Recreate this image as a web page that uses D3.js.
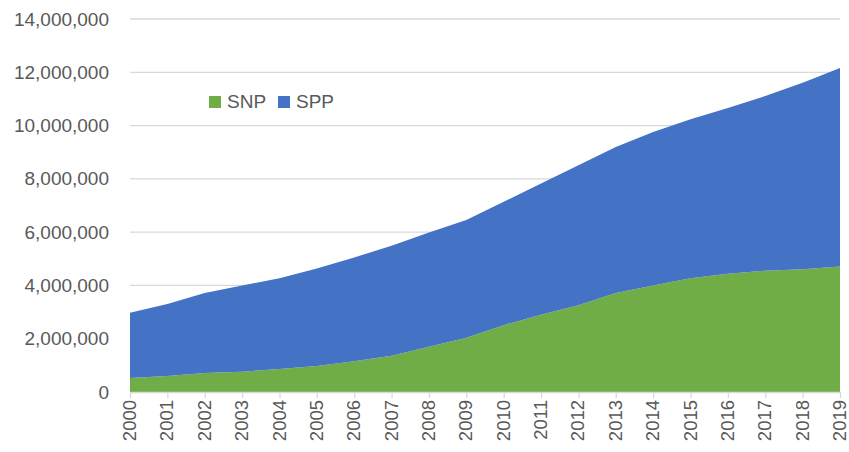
<!DOCTYPE html>
<html><head><meta charset="utf-8">
<script src="https://cdn.jsdelivr.net/npm/d3@7"></script>
<style>body{margin:0;background:#fff;} svg{display:block;}</style>
</head><body>
<svg id="c" width="849" height="452"></svg>
<script>
const years = [2000,2001,2002,2003,2004,2005,2006,2007,2008,2009,2010,2011,2012,2013,2014,2015,2016,2017,2018,2019];
const snp = [525000,600000,710000,760000,865000,975000,1150000,1360000,1700000,2040000,2510000,2900000,3260000,3720000,4000000,4270000,4440000,4550000,4610000,4710000];
const spp = [2445000,2700000,3010000,3240000,3405000,3665000,3900000,4130000,4290000,4420000,4630000,4930000,5250000,5480000,5760000,5970000,6220000,6560000,7000000,7450000];
const seriesNames = ["SNP","SPP"];
const colors = ["#70AD47","#4472C4"];
const yTicks = [0,2000000,4000000,6000000,8000000,10000000,12000000,14000000];

const svg = d3.select("#c");
const font = "'Liberation Sans', Arial, sans-serif";
const x = d3.scaleLinear().domain([years[0], years[years.length-1]]).range([130, 840]);
const y = d3.scaleLinear().domain([0,14000000]).range([392, 19]);

// gridlines
svg.append("g").selectAll("line").data(yTicks.filter(d=>d>0)).join("line")
  .attr("x1",130).attr("x2",840).attr("y1",d=>y(d)).attr("y2",d=>y(d))
  .attr("stroke","#D9D9D9").attr("stroke-width",1.3);

const table = years.map((yr,i)=>({year:yr, SNP:snp[i], SPP:spp[i]}));
const stack = d3.stack().keys(seriesNames)(table);
const area = d3.area().x(d=>x(d.data.year)).y0(d=>y(d[0])).y1(d=>y(d[1]));
svg.append("g").selectAll("path").data(stack).join("path")
  .attr("d",area).attr("fill",(d,i)=>colors[i]);

// y axis labels
const yAxis = d3.axisLeft(y).tickValues(yTicks).tickSize(0).tickPadding(21)
  .tickFormat(d3.format(","));
const gy = svg.append("g").attr("transform","translate(130,0)").call(yAxis);
gy.select(".domain").remove();
gy.selectAll("text").attr("font-family",font).attr("font-size","19px").attr("fill","#595959");

// x axis
const xAxis = d3.axisBottom(x).tickValues(years).tickSize(6).tickFormat(d3.format("d")).tickSizeOuter(0);
const gx = svg.append("g").attr("transform","translate(0,392)").call(xAxis);
gx.select(".domain").attr("stroke","#D9D9D9").attr("stroke-width",1.3);
gx.selectAll(".tick line").attr("stroke","#D9D9D9").attr("stroke-width",1.3);
gx.selectAll("text").attr("font-family",font).attr("font-size","18.5px").attr("fill","#595959")
  .attr("transform","rotate(-90)").attr("text-anchor","end").attr("dy","0.3em").attr("x",-8).attr("y",0);

// legend
const lg = svg.append("g");
const lx = [209, 278];
seriesNames.forEach((n,i)=>{
  lg.append("rect").attr("x",lx[i]).attr("y",96).attr("width",12).attr("height",12).attr("fill",colors[i]);
  lg.append("text").attr("x",lx[i]+18).attr("y",108).text(n)
    .attr("font-family",font).attr("font-size","19px").attr("fill","#595959");
});
</script>
</body></html>
